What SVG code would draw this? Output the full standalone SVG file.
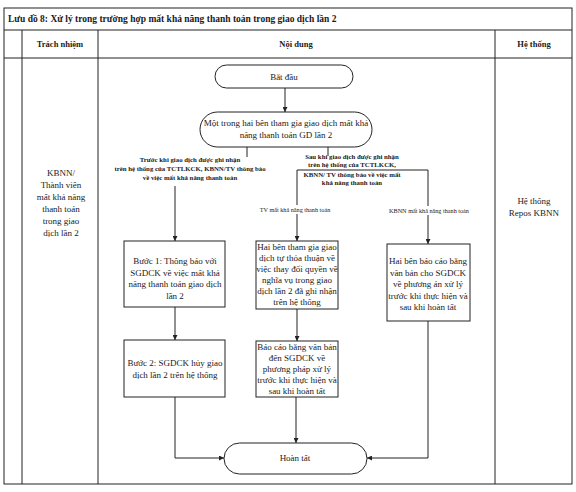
<svg xmlns="http://www.w3.org/2000/svg" width="576" height="492" viewBox="0 0 576 492">
<style>
text{font-family:"Liberation Serif","Times New Roman",serif;fill:#1a1a1a}
.t{font-size:9px;text-anchor:middle}
.h{font-size:8.5px;font-weight:bold;text-anchor:middle}
.lb{font-size:6.8px;font-weight:bold;text-anchor:middle}
.sm{font-size:6.2px;text-anchor:middle}
.frame{fill:none;stroke:#222;stroke-width:1}
.box{fill:#fff;stroke:#222;stroke-width:1}
.con{fill:none;stroke:#222;stroke-width:1}
</style>
<defs>
<marker id="arr" viewBox="0 0 10 10" refX="10" refY="5" markerWidth="5" markerHeight="5" orient="auto">
<path d="M0,0 L10,5 L0,10 z" fill="#222"/>
</marker>
</defs>
<rect width="576" height="492" fill="#fff"/>
<g id="table">
<rect class="frame" x="4" y="8" width="568" height="476"/>
<line class="frame" x1="4" y1="30" x2="572" y2="30"/>
<line class="frame" x1="4" y1="58" x2="572" y2="58"/>
<line class="frame" x1="22" y1="30" x2="22" y2="484"/>
<line class="frame" x1="98" y1="30" x2="98" y2="484"/>
<line class="frame" x1="495" y1="30" x2="495" y2="484"/>
<text x="8" y="22" style="font-size:9.5px;font-weight:bold">Lưu đồ 8: Xử lý trong trường hợp mất khả năng thanh toán trong giao dịch lần 2</text>
<text class="h" x="60" y="47">Trách nhiệm</text>
<text class="h" x="296" y="47">Nội dung</text>
<text class="h" x="534" y="47">Hệ thống</text>
</g>
<g id="resp">
<text class="t" x="61" y="176">KBNN/</text>
<text class="t" x="61" y="188">Thành viên</text>
<text class="t" x="61" y="200">mất khả năng</text>
<text class="t" x="61" y="212">thanh toán</text>
<text class="t" x="61" y="224">trong giao</text>
<text class="t" x="61" y="236">dịch lần 2</text>
</g>
<g id="system">
<text class="t" x="534" y="204">Hệ thống</text>
<text class="t" x="534" y="216">Repos KBNN</text>
</g>
<g id="connectors">
<path class="con" d="M285,88 V112" marker-end="url(#arr)"/>
<path class="con" d="M247,147 V157 M175,186 V241" marker-end="url(#arr)"/>
<path class="con" d="M328,147 V156"/>
<path class="con" d="M297,170 H428"/>
<path class="con" d="M297,170 V241" marker-end="url(#arr)"/>
<path class="con" d="M428,170 V244" marker-end="url(#arr)"/>
<path class="con" d="M175,307 V340" marker-end="url(#arr)"/>
<path class="con" d="M297,309 V341" marker-end="url(#arr)"/>
<path class="con" d="M175,397 V458 H224" marker-end="url(#arr)"/>
<path class="con" d="M296,397 V443" marker-end="url(#arr)"/>
<path class="con" d="M428,321 V458 H367" marker-end="url(#arr)"/>
<rect x="258" y="205" width="74" height="9" fill="#fff"/>
<text class="sm" x="295" y="212">TV mất khả năng thanh toán</text>
<rect x="385" y="206" width="88" height="9" fill="#fff"/>
<text class="sm" x="429" y="213">KBNN mất khả năng thanh toán</text>
<text class="lb" x="190" y="162">Trước khi giao dịch được ghi nhận</text>
<text class="lb" x="190" y="171">trên hệ thống của TCTLKCK, KBNN/TV thông báo</text>
<text class="lb" x="190" y="180">về việc mất khả năng thanh toán</text>
<text class="lb" x="352" y="159">Sau khi giao dịch được ghi nhận</text>
<text class="lb" x="352" y="167">trên hệ thống của TCTLKCK,</text>
<text class="lb" x="352" y="177">KBNN/ TV thông báo về việc mất</text>
<text class="lb" x="352" y="185">khả năng thanh toán</text>
</g>
<g id="start">
<rect class="box" x="215" y="65" width="138" height="23" rx="11.5"/>
<text class="t" x="284" y="80">Bắt đầu</text>
</g>
<g id="event">
<rect class="box" x="200" y="112" width="172" height="35" rx="17.5"/>
<text class="t" x="286" y="126">Một trong hai bên tham gia giao dịch mất khả</text>
<text class="t" x="286" y="138">năng thanh toán GD lần 2</text>
</g>
<g id="step1">
<rect class="box" x="124" y="241" width="101" height="66"/>
<text class="t" x="175" y="264">Bước 1: Thông báo với</text>
<text class="t" x="175" y="275.5">SGDCK về việc mất khả</text>
<text class="t" x="175" y="287">năng thanh toán giao dịch</text>
<text class="t" x="175" y="298.5">lần 2</text>
</g>
<g id="step2">
<rect class="box" x="124" y="340" width="101" height="57"/>
<text class="t" x="175" y="366">Bước 2: SGDCK hủy giao</text>
<text class="t" x="175" y="378">dịch lần 2 trên hệ thống</text>
</g>
<g id="agree">
<rect class="box" x="256" y="241" width="82" height="68"/>
<text class="t" x="297" y="250">Hai bên tham gia giao</text>
<text class="t" x="297" y="261">dịch tự thỏa thuận về</text>
<text class="t" x="297" y="272">việc thay đổi quyền về</text>
<text class="t" x="297" y="283">nghĩa vụ trong giao</text>
<text class="t" x="297" y="294">dịch lần 2 đã ghi nhận</text>
<text class="t" x="297" y="305">trên hệ thống</text>
</g>
<g id="report1">
<rect class="box" x="256" y="341" width="82" height="56"/>
<text class="t" x="297" y="349.5">Báo cáo bằng văn bản</text>
<text class="t" x="297" y="360.5">đến SGDCK về</text>
<text class="t" x="297" y="371.5">phương pháp xử lý</text>
<text class="t" x="297" y="382.5">trước khi thực hiện và</text>
<text class="t" x="297" y="393.5">sau khi hoàn tất</text>
</g>
<g id="report2">
<rect class="box" x="387" y="244" width="83" height="77"/>
<text class="t" x="428" y="264">Hai bên báo cáo bằng</text>
<text class="t" x="428" y="275.5">văn bản cho SGDCK</text>
<text class="t" x="428" y="287">về phương án xử lý</text>
<text class="t" x="428" y="298.5">trước khi thực hiện và</text>
<text class="t" x="428" y="310">sau khi hoàn tất</text>
</g>
<g id="end">
<rect class="box" x="224" y="443" width="143" height="31" rx="15.5"/>
<text class="t" x="295" y="461">Hoàn tất</text>
</g>
</svg>
